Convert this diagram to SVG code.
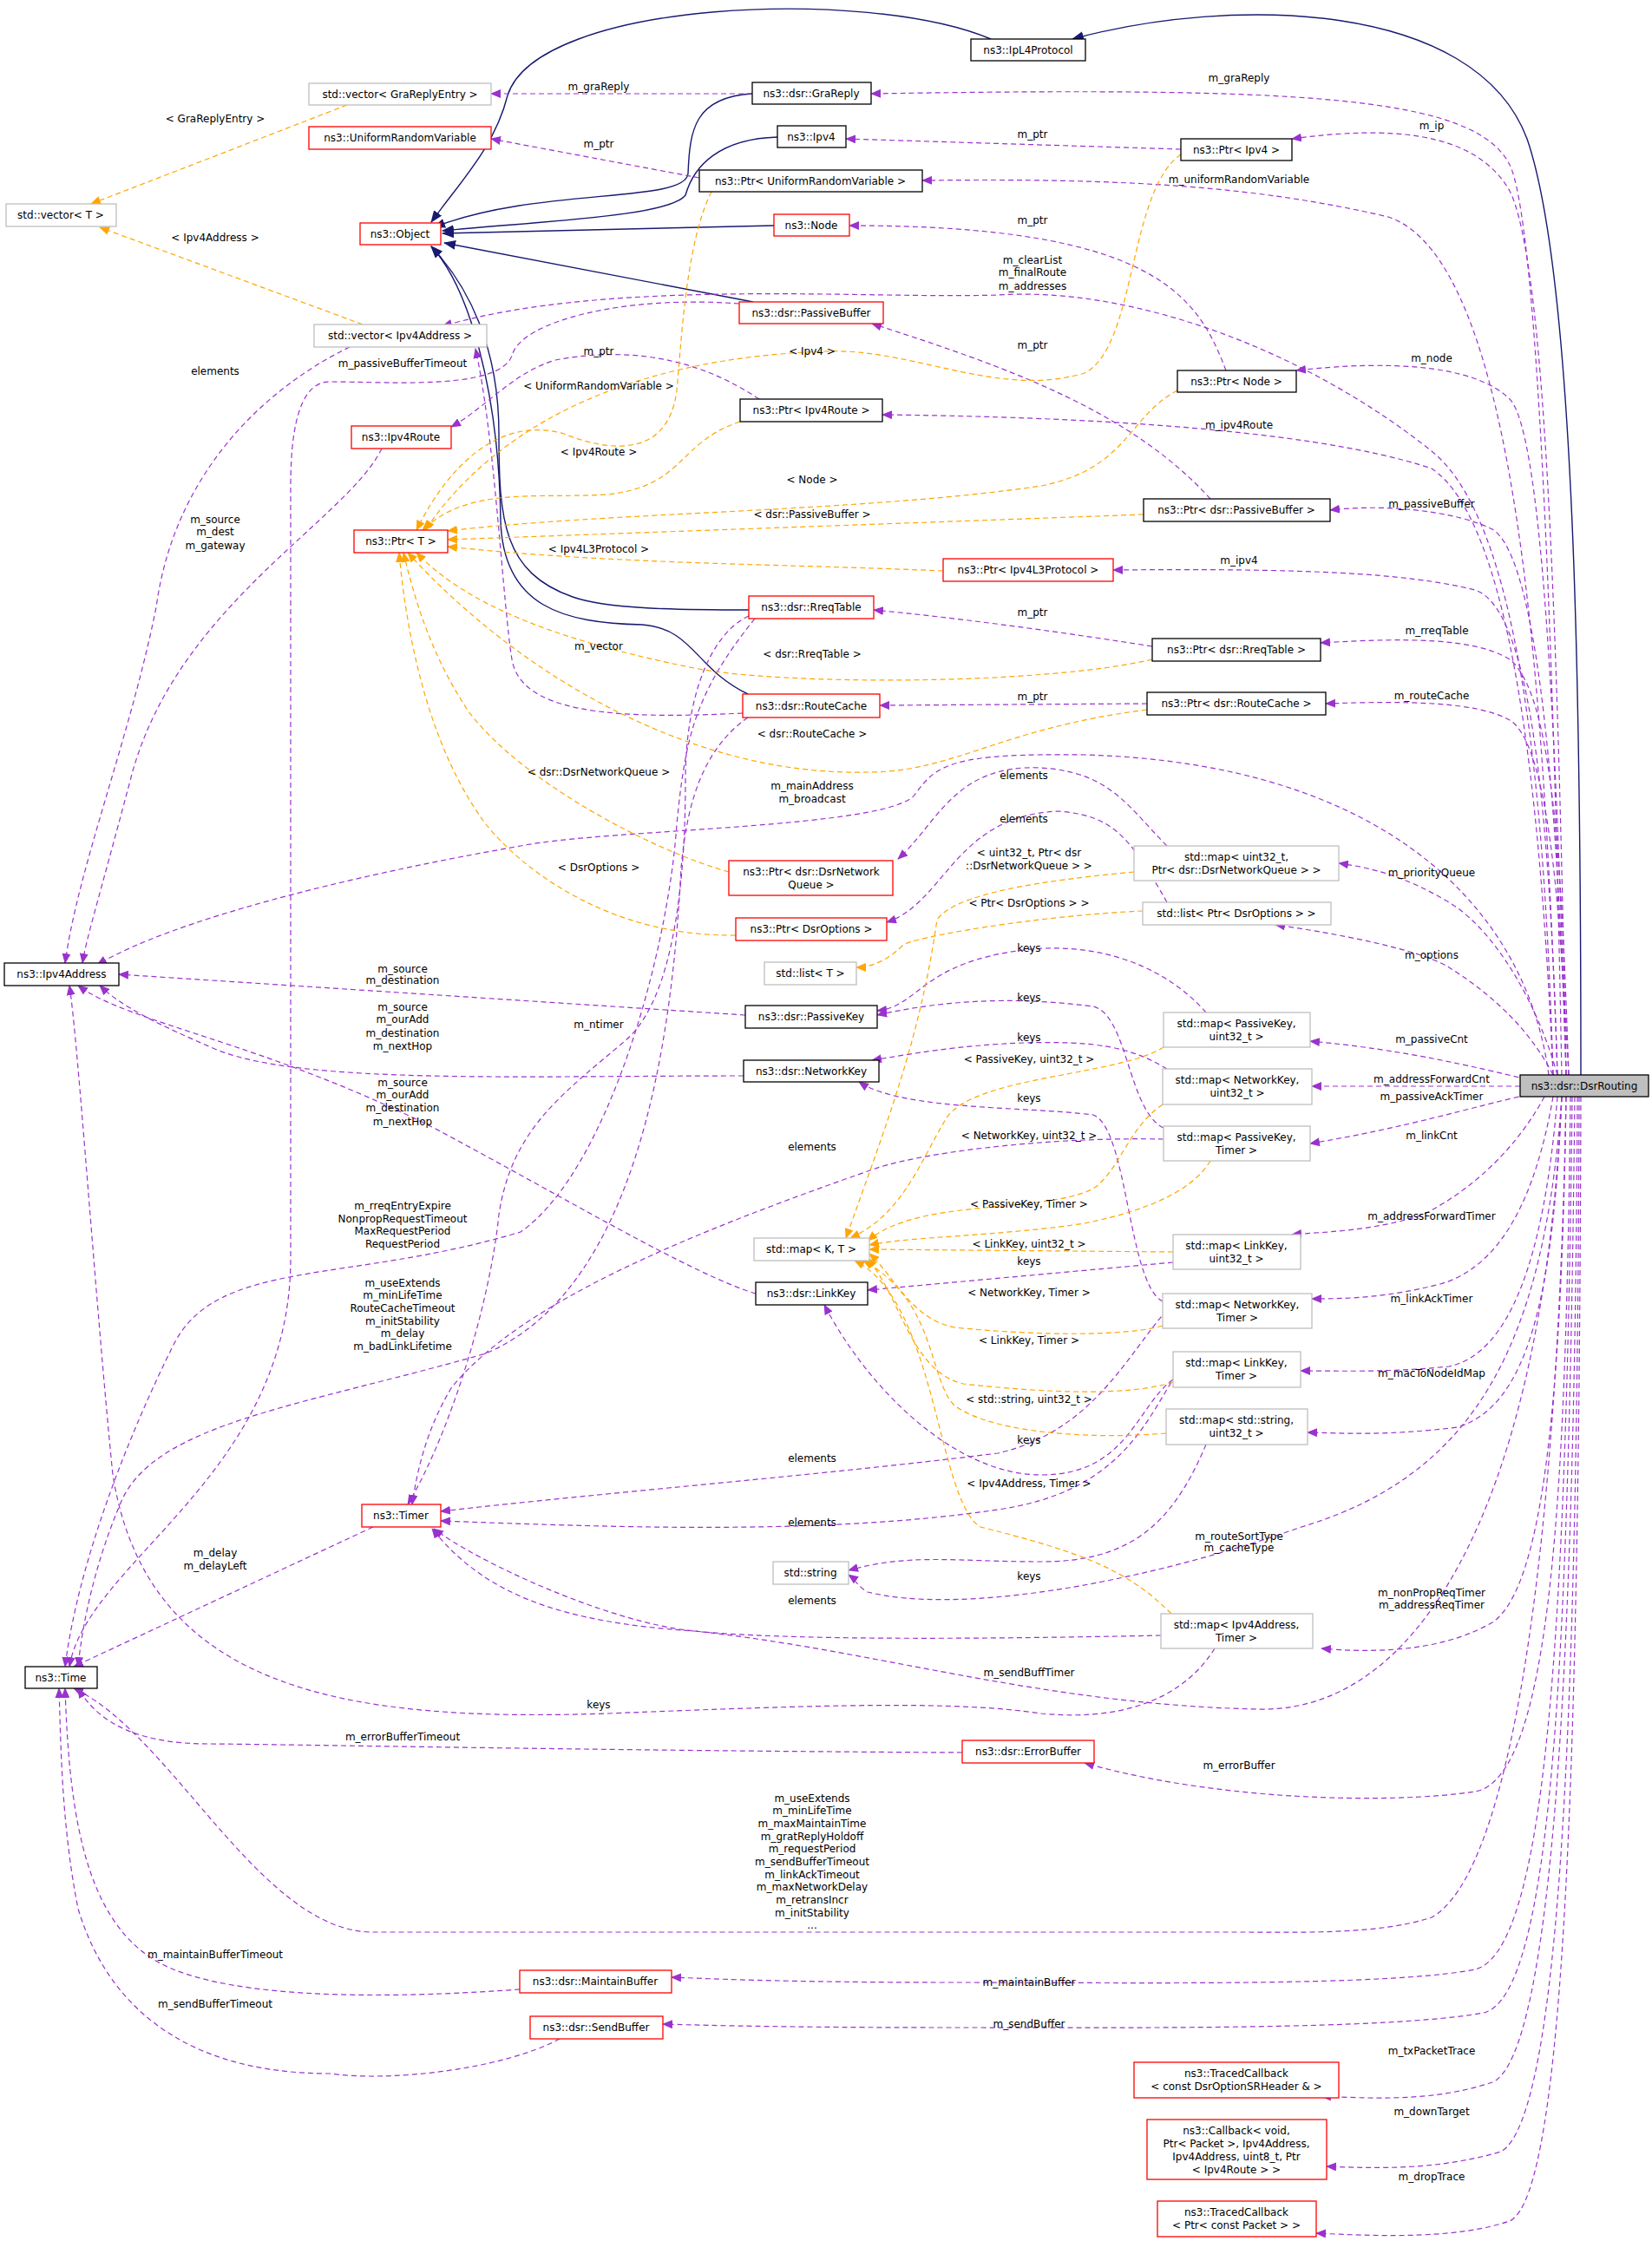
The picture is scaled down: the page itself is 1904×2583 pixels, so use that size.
<svg xmlns="http://www.w3.org/2000/svg" width="1904" height="2583" viewBox="0 0 1904 2583">
<style>
text{font-family:"DejaVu Sans","Liberation Sans",sans-serif;font-size:12px;fill:#000;text-anchor:middle}
.k{fill:#fff;stroke:#000;stroke-width:1.3}
.r{fill:#fff;stroke:#ff0000;stroke-width:1.3}
.g{fill:#fff;stroke:#bfbfbf;stroke-width:1.3}
.s{fill:#bfbfbf;stroke:#000;stroke-width:1.3}
.e{fill:none;stroke:#9a32cd;stroke-width:1.2;stroke-dasharray:6,4;marker-end:url(#mp)}
.o{fill:none;stroke:#ffa500;stroke-width:1.2;stroke-dasharray:6,4;marker-end:url(#mo)}
.i{fill:none;stroke:#191970;stroke-width:1.4;marker-end:url(#mi)}
</style>
<defs>
<marker id="mp" markerWidth="12" markerHeight="10" refX="11" refY="5" orient="auto" markerUnits="userSpaceOnUse"><path d="M0,0 L12,5 L0,10 z" fill="#9a32cd"/></marker>
<marker id="mo" markerWidth="12" markerHeight="10" refX="11" refY="5" orient="auto" markerUnits="userSpaceOnUse"><path d="M0,0 L12,5 L0,10 z" fill="#ffa500"/></marker>
<marker id="mi" markerWidth="14" markerHeight="11" refX="13" refY="5.5" orient="auto" markerUnits="userSpaceOnUse"><path d="M0,0 L14,5.5 L0,11 z" fill="#191970"/></marker>
</defs>
<g id="edges">
<path class="i" d="M1142,45 C1000,-15 620,0 585,110 C570,170 530,210 497,256"/>
<path class="i" d="M1822,1239 C1822,800 1815,320 1760,160 C1700,0 1420,-5 1236,45"/>
<path class="i" d="M867,108 C800,112 795,150 793,200 C790,235 620,215 500,262"/>
<path class="i" d="M896,158 C830,160 800,190 790,225 C770,250 620,255 510,266"/>
<path class="i" d="M892,260 L510,269"/>
<path class="i" d="M868,348 L512,280"/>
<path class="i" d="M863,703 C780,703 700,702 660,688 C580,660 575,600 575,500 C575,400 540,330 497,284"/>
<path class="i" d="M862,800 C800,770 800,725 740,720 C650,718 580,700 577,600 C575,450 540,330 497,284"/>
<path class="e" d="M1800,1239 C1790,700 1770,250 1740,190 C1700,110 1500,100 1004,108"/>
<path class="e" d="M1805,1239 C1795,700 1780,300 1740,220 C1700,150 1600,145 1489,160"/>
<path class="e" d="M1795,1239 C1780,800 1750,300 1600,250 C1450,215 1300,205 1063,208"/>
<path class="e" d="M1805,1239 C1795,900 1780,500 1740,460 C1700,420 1600,415 1494,427"/>
<path class="e" d="M1790,1239 C1775,900 1740,600 1650,540 C1500,490 1200,480 1017,478"/>
<path class="e" d="M1805,1239 C1795,900 1770,640 1720,610 C1680,590 1600,580 1533,588"/>
<path class="e" d="M1795,1239 C1785,900 1760,700 1700,680 C1620,660 1500,655 1283,657"/>
<path class="e" d="M1808,1239 C1800,1000 1790,800 1740,760 C1700,735 1620,735 1522,741"/>
<path class="e" d="M1808,1239 C1800,1100 1790,860 1740,830 C1700,808 1620,808 1528,811"/>
<path class="e" d="M1790,1239 C1780,900 1750,600 1650,520 C1500,400 1300,330 1150,340 C1000,345 700,320 510,376"/>
<path class="e" d="M1785,1239 C1760,1050 1600,880 1250,870 C1100,868 1080,880 1055,915 C1030,955 700,955 600,975 C400,1010 200,1060 112,1112"/>
<path class="e" d="M1795,1239 C1770,1150 1720,1070 1670,1040 C1620,1010 1580,1000 1543,995"/>
<path class="e" d="M1790,1239 C1760,1180 1710,1140 1670,1115 C1630,1090 1500,1070 1470,1066"/>
<path class="e" d="M1760,1244 C1700,1230 1620,1210 1510,1200"/>
<path class="e" d="M1752,1252 L1512,1252"/>
<path class="e" d="M1760,1262 C1700,1275 1620,1300 1510,1318"/>
<path class="e" d="M1780,1264 C1750,1320 1700,1370 1640,1400 C1580,1420 1520,1420 1489,1423"/>
<path class="e" d="M1790,1264 C1770,1380 1730,1460 1660,1480 C1600,1495 1560,1497 1512,1497"/>
<path class="e" d="M1795,1264 C1780,1450 1740,1560 1670,1575 C1600,1582 1550,1580 1499,1580"/>
<path class="e" d="M1800,1264 C1790,1500 1760,1620 1680,1645 C1600,1655 1550,1652 1507,1651"/>
<path class="e" d="M1800,1264 C1780,1550 1700,1700 1500,1760 C1300,1830 1100,1860 1000,1835 C990,1830 985,1820 978,1815"/>
<path class="e" d="M1805,1264 C1800,1600 1780,1830 1720,1870 C1660,1905 1580,1905 1523,1900"/>
<path class="e" d="M1800,1264 C1780,1700 1650,1975 1450,1970 C1200,1965 1000,1900 800,1880 C650,1870 560,1840 498,1762"/>
<path class="e" d="M1810,1264 C1805,1700 1790,2050 1700,2065 C1600,2080 1400,2075 1250,2032"/>
<path class="e" d="M1805,1264 C1795,1800 1740,2160 1650,2210 C1590,2230 1500,2227 1430,2227 L430,2227 C300,2227 200,2000 85,1946"/>
<path class="e" d="M1812,1264 C1805,1900 1780,2250 1700,2270 C1600,2290 1300,2285 1100,2285 C900,2285 800,2280 774,2279"/>
<path class="e" d="M1815,1264 C1808,1900 1790,2300 1710,2320 C1600,2340 1300,2337 1100,2337 C900,2337 800,2334 764,2333"/>
<path class="e" d="M1818,1264 C1815,1900 1790,2370 1720,2400 C1660,2420 1600,2420 1523,2416"/>
<path class="e" d="M1820,1264 C1818,1950 1800,2440 1730,2480 C1660,2500 1600,2500 1529,2497"/>
<path class="e" d="M1822,1264 C1820,2000 1805,2530 1740,2560 C1680,2580 1600,2578 1517,2574"/>
<path class="e" d="M867,108 L566,108"/>
<path class="e" d="M806,205 L566,160"/>
<path class="e" d="M1361,172 L975,160"/>
<path class="e" d="M1413,427 C1380,340 1330,260 979,260"/>
<path class="e" d="M1395,575 C1300,470 1150,420 1005,373"/>
<path class="e" d="M1328,745 C1200,725 1100,712 1007,703"/>
<path class="e" d="M1322,811 L1014,813"/>
<path class="e" d="M875,460 C800,410 720,400 640,415 C590,430 560,470 520,492"/>
<path class="e" d="M852,350 C720,340 600,370 590,410 C575,450 450,440 380,440 C350,440 335,480 335,560 L335,1450 C335,1700 100,1800 80,1921"/>
<path class="e" d="M856,822 C700,830 600,820 590,760 C580,700 570,500 548,402"/>
<path class="e" d="M403,400 C300,450 200,550 180,700 C150,850 90,1000 75,1110"/>
<path class="e" d="M440,517 C400,600 200,700 150,900 C110,1050 100,1080 95,1110"/>
<path class="e" d="M859,1170 L137,1123"/>
<path class="e" d="M857,1240 C600,1240 350,1250 250,1210 C180,1180 140,1160 115,1136"/>
<path class="e" d="M871,1491 C800,1470 650,1380 500,1300 C300,1200 150,1180 90,1136"/>
<path class="e" d="M1390,1167 C1340,1110 1260,1085 1180,1095 C1060,1110 1060,1160 1011,1165"/>
<path class="e" d="M1341,1300 C1300,1280 1300,1170 1260,1160 C1180,1150 1100,1150 1011,1170"/>
<path class="e" d="M1345,1232 C1300,1205 1260,1200 1180,1202 C1100,1205 1050,1215 1005,1222"/>
<path class="e" d="M1340,1500 C1300,1480 1300,1300 1260,1285 C1180,1275 1040,1280 990,1247"/>
<path class="e" d="M1352,1455 L1000,1487"/>
<path class="e" d="M1352,1590 C1310,1620 1300,1700 1200,1700 C1100,1700 1000,1600 950,1504"/>
<path class="e" d="M1341,1313 C1200,1310 1050,1330 1000,1350 C800,1420 600,1500 520,1600 C490,1650 480,1700 475,1734"/>
<path class="e" d="M1345,1510 C1300,1560 1260,1650 1150,1675 C950,1700 700,1720 508,1742"/>
<path class="e" d="M1355,1585 C1320,1640 1290,1720 1150,1740 C950,1770 700,1760 508,1753"/>
<path class="e" d="M1338,1885 C1100,1890 900,1890 800,1880 C700,1870 550,1800 500,1762"/>
<path class="e" d="M863,710 C820,730 790,800 790,900 C790,1000 780,1150 720,1200 C650,1260 590,1300 575,1400 C565,1500 520,1650 470,1734"/>
<path class="e" d="M870,713 C800,800 790,850 780,950 C770,1100 700,1350 600,1420 C400,1480 250,1450 200,1550 C150,1650 90,1800 75,1921"/>
<path class="e" d="M862,827 C800,870 790,950 785,1000 C770,1300 700,1500 560,1560 C350,1620 180,1640 140,1730 C110,1800 95,1870 90,1921"/>
<path class="e" d="M430,1760 L85,1921"/>
<path class="e" d="M1400,1900 C1350,1980 1250,1980 1200,1975 C1100,1960 950,1965 700,1975 C400,1985 170,1950 130,1700 C110,1500 90,1200 80,1136"/>
<path class="e" d="M1109,2020 C700,2018 300,2010 240,2010 C150,2010 110,1980 90,1946"/>
<path class="e" d="M599,2293 C500,2300 300,2310 200,2270 C100,2230 80,2100 75,1946"/>
<path class="e" d="M645,2350 C580,2385 450,2400 380,2390 C200,2390 120,2300 90,2200 C70,2100 70,2000 68,1946"/>
<path class="e" d="M1345,975 C1300,930 1280,890 1200,885 C1100,880 1080,950 1035,990"/>
<path class="e" d="M1345,1040 C1300,960 1280,940 1220,935 C1100,940 1090,1040 1022,1063"/>
<path class="e" d="M1390,1665 C1350,1760 1300,1800 1200,1800 C1100,1800 1050,1790 978,1810"/>
<path class="o" d="M400,121 L105,235"/>
<path class="o" d="M418,374 L115,262"/>
<path class="o" d="M1361,178 C1300,220 1310,400 1250,430 C1150,460 1050,400 950,405 C800,410 600,450 490,611"/>
<path class="o" d="M820,221 C790,280 785,400 780,450 C770,530 700,520 650,500 C580,480 520,530 480,611"/>
<path class="o" d="M853,486 C780,510 790,560 700,570 C620,575 540,560 487,611"/>
<path class="o" d="M1357,450 C1300,480 1300,540 1200,560 C1000,590 700,590 516,612"/>
<path class="o" d="M1318,593 L516,622"/>
<path class="o" d="M1087,658 C900,650 700,650 516,630"/>
<path class="o" d="M1328,760 C1200,790 900,790 800,770 C650,740 540,700 480,637"/>
<path class="o" d="M1322,818 C1150,840 1100,890 1000,890 C800,895 600,780 470,637"/>
<path class="o" d="M840,1005 C750,980 600,900 540,820 C500,760 480,700 465,637"/>
<path class="o" d="M848,1078 C700,1080 600,1000 560,950 C500,870 470,750 460,637"/>
<path class="o" d="M1317,1050 C1200,1055 1050,1080 1040,1090 C1020,1110 1000,1115 987,1115"/>
<path class="o" d="M1307,1005 C1200,1015 1100,1030 1080,1060 C1060,1200 1020,1300 975,1427"/>
<path class="o" d="M1341,1207 C1290,1240 1120,1240 1090,1290 C1060,1340 1040,1400 980,1427"/>
<path class="o" d="M1340,1273 C1300,1300 1290,1350 1260,1370 C1200,1400 1060,1380 1000,1430"/>
<path class="o" d="M1395,1338 C1370,1380 1300,1400 1250,1410 C1150,1425 1050,1425 1002,1435"/>
<path class="o" d="M1352,1443 L1002,1440"/>
<path class="o" d="M1340,1528 C1300,1540 1200,1540 1100,1530 C1050,1520 1030,1470 1002,1445"/>
<path class="o" d="M1352,1593 C1300,1610 1200,1605 1110,1595 C1050,1580 1040,1500 1000,1450"/>
<path class="o" d="M1344,1652 C1250,1660 1140,1650 1100,1620 C1070,1590 1080,1500 995,1453"/>
<path class="o" d="M1350,1860 C1300,1810 1250,1790 1130,1760 C1080,1730 1080,1500 985,1453"/>
</g>
<g id="IpL4Protocol"><rect class="k" x="1119" y="45" width="132" height="25"/><text x="1185" y="62">ns3::IpL4Protocol</text></g>
<g id="vecGra"><rect class="g" x="356" y="96" width="210" height="25"/><text x="461" y="113">std::vector&lt; GraReplyEntry &gt;</text></g>
<g id="GraReply"><rect class="k" x="867" y="95" width="137" height="25"/><text x="935" y="112">ns3::dsr::GraReply</text></g>
<g id="URV"><rect class="r" x="356" y="146" width="210" height="26"/><text x="461" y="163">ns3::UniformRandomVariable</text></g>
<g id="Ipv4"><rect class="k" x="896" y="145" width="79" height="25"/><text x="935" y="162">ns3::Ipv4</text></g>
<g id="PtrIpv4"><rect class="k" x="1361" y="160" width="128" height="25"/><text x="1425" y="177">ns3::Ptr&lt; Ipv4 &gt;</text></g>
<g id="PtrURV"><rect class="k" x="806" y="196" width="257" height="25"/><text x="934" y="213">ns3::Ptr&lt; UniformRandomVariable &gt;</text></g>
<g id="vecT"><rect class="g" x="7" y="235" width="127" height="26"/><text x="70" y="252">std::vector&lt; T &gt;</text></g>
<g id="Object"><rect class="r" x="415" y="257" width="93" height="25"/><text x="461" y="274">ns3::Object</text></g>
<g id="Node"><rect class="r" x="892" y="247" width="87" height="25"/><text x="935" y="264">ns3::Node</text></g>
<g id="PassiveBuffer"><rect class="r" x="852" y="348" width="166" height="25"/><text x="935" y="365">ns3::dsr::PassiveBuffer</text></g>
<g id="vecIpv4Address"><rect class="g" x="362" y="374" width="199" height="26"/><text x="461" y="391">std::vector&lt; Ipv4Address &gt;</text></g>
<g id="PtrNode"><rect class="k" x="1357" y="427" width="137" height="25"/><text x="1425" y="444">ns3::Ptr&lt; Node &gt;</text></g>
<g id="PtrIpv4Route"><rect class="k" x="853" y="460" width="164" height="26"/><text x="935" y="477">ns3::Ptr&lt; Ipv4Route &gt;</text></g>
<g id="Ipv4Route"><rect class="r" x="405" y="491" width="115" height="26"/><text x="462" y="508">ns3::Ipv4Route</text></g>
<g id="PtrPassiveBuffer"><rect class="k" x="1318" y="575" width="215" height="26"/><text x="1425" y="592">ns3::Ptr&lt; dsr::PassiveBuffer &gt;</text></g>
<g id="PtrT"><rect class="r" x="408" y="611" width="108" height="26"/><text x="462" y="628">ns3::Ptr&lt; T &gt;</text></g>
<g id="PtrIpv4L3"><rect class="r" x="1087" y="644" width="196" height="26"/><text x="1185" y="661">ns3::Ptr&lt; Ipv4L3Protocol &gt;</text></g>
<g id="RreqTable"><rect class="r" x="863" y="687" width="144" height="26"/><text x="935" y="704">ns3::dsr::RreqTable</text></g>
<g id="PtrRreqTable"><rect class="k" x="1328" y="736" width="194" height="26"/><text x="1425" y="753">ns3::Ptr&lt; dsr::RreqTable &gt;</text></g>
<g id="RouteCache"><rect class="r" x="856" y="800" width="158" height="27"/><text x="935" y="818">ns3::dsr::RouteCache</text></g>
<g id="PtrRouteCache"><rect class="k" x="1322" y="798" width="206" height="26"/><text x="1425" y="815">ns3::Ptr&lt; dsr::RouteCache &gt;</text></g>
<g id="PtrDsrNetworkQueue"><rect class="r" x="840" y="992" width="189" height="40"/><text x="935" y="1009">ns3::Ptr&lt; dsr::DsrNetwork</text><text x="935" y="1024">Queue &gt;</text></g>
<g id="mapPrio"><rect class="g" x="1307" y="975" width="236" height="40"/><text x="1425" y="992">std::map&lt; uint32_t,</text><text x="1425" y="1007"> Ptr&lt; dsr::DsrNetworkQueue &gt; &gt;</text></g>
<g id="PtrDsrOptions"><rect class="r" x="848" y="1058" width="174" height="26"/><text x="935" y="1075">ns3::Ptr&lt; DsrOptions &gt;</text></g>
<g id="listPtrDsrOptions"><rect class="g" x="1317" y="1040" width="217" height="26"/><text x="1425" y="1057">std::list&lt; Ptr&lt; DsrOptions &gt; &gt;</text></g>
<g id="Ipv4Address"><rect class="k" x="5" y="1110" width="132" height="26"/><text x="71" y="1127">ns3::Ipv4Address</text></g>
<g id="listT"><rect class="g" x="881" y="1109" width="106" height="26"/><text x="934" y="1126">std::list&lt; T &gt;</text></g>
<g id="PassiveKey"><rect class="k" x="859" y="1159" width="152" height="26"/><text x="935" y="1176">ns3::dsr::PassiveKey</text></g>
<g id="mapPKu"><rect class="g" x="1341" y="1167" width="169" height="40"/><text x="1425" y="1184">std::map&lt; PassiveKey,</text><text x="1425" y="1199"> uint32_t &gt;</text></g>
<g id="NetworkKey"><rect class="k" x="857" y="1222" width="156" height="25"/><text x="935" y="1239">ns3::dsr::NetworkKey</text></g>
<g id="mapNKu"><rect class="g" x="1340" y="1232" width="172" height="41"/><text x="1426" y="1249">std::map&lt; NetworkKey,</text><text x="1426" y="1264"> uint32_t &gt;</text></g>
<g id="DsrRouting"><rect class="s" x="1752" y="1239" width="148" height="25"/><text x="1826" y="1256">ns3::dsr::DsrRouting</text></g>
<g id="mapPKT"><rect class="g" x="1341" y="1298" width="169" height="40"/><text x="1425" y="1315">std::map&lt; PassiveKey,</text><text x="1425" y="1330"> Timer &gt;</text></g>
<g id="mapKT"><rect class="g" x="869" y="1427" width="133" height="26"/><text x="935" y="1444">std::map&lt; K, T &gt;</text></g>
<g id="mapLKu"><rect class="g" x="1352" y="1423" width="147" height="40"/><text x="1425" y="1440">std::map&lt; LinkKey,</text><text x="1425" y="1455"> uint32_t &gt;</text></g>
<g id="LinkKey"><rect class="k" x="871" y="1478" width="129" height="26"/><text x="935" y="1495">ns3::dsr::LinkKey</text></g>
<g id="mapNKT"><rect class="g" x="1340" y="1491" width="172" height="40"/><text x="1426" y="1508">std::map&lt; NetworkKey,</text><text x="1426" y="1523"> Timer &gt;</text></g>
<g id="mapLKT"><rect class="g" x="1352" y="1558" width="147" height="41"/><text x="1425" y="1575">std::map&lt; LinkKey,</text><text x="1425" y="1590"> Timer &gt;</text></g>
<g id="mapSu"><rect class="g" x="1344" y="1624" width="163" height="41"/><text x="1425" y="1641">std::map&lt; std::string,</text><text x="1425" y="1656"> uint32_t &gt;</text></g>
<g id="Timer"><rect class="r" x="417" y="1734" width="91" height="26"/><text x="462" y="1751">ns3::Timer</text></g>
<g id="string"><rect class="g" x="891" y="1800" width="87" height="26"/><text x="934" y="1817">std::string</text></g>
<g id="mapIAT"><rect class="g" x="1338" y="1860" width="175" height="40"/><text x="1425" y="1877">std::map&lt; Ipv4Address,</text><text x="1425" y="1892"> Timer &gt;</text></g>
<g id="Time"><rect class="k" x="29" y="1921" width="83" height="25"/><text x="70" y="1938">ns3::Time</text></g>
<g id="ErrorBuffer"><rect class="r" x="1109" y="2006" width="152" height="26"/><text x="1185" y="2023">ns3::dsr::ErrorBuffer</text></g>
<g id="MaintainBuffer"><rect class="r" x="599" y="2271" width="175" height="26"/><text x="686" y="2288">ns3::dsr::MaintainBuffer</text></g>
<g id="SendBuffer"><rect class="r" x="611" y="2324" width="153" height="26"/><text x="687" y="2341">ns3::dsr::SendBuffer</text></g>
<g id="TracedCb1"><rect class="r" x="1307" y="2377" width="236" height="41"/><text x="1425" y="2394">ns3::TracedCallback</text><text x="1425" y="2409">&lt; const DsrOptionSRHeader &amp; &gt;</text></g>
<g id="Callback"><rect class="r" x="1322" y="2443" width="207" height="69"/><text x="1425" y="2460">ns3::Callback&lt; void,</text><text x="1425" y="2475"> Ptr&lt; Packet &gt;, Ipv4Address,</text><text x="1425" y="2490"> Ipv4Address, uint8_t, Ptr</text><text x="1425" y="2505">&lt; Ipv4Route &gt; &gt;</text></g>
<g id="TracedCb2"><rect class="r" x="1334" y="2537" width="183" height="41"/><text x="1425" y="2554">ns3::TracedCallback</text><text x="1425" y="2569">&lt; Ptr&lt; const Packet &gt; &gt;</text></g>
<g id="labels">
<text x="1428" y="94">m_graReply</text>
<text x="1650" y="149">m_ip</text>
<text x="1428" y="211">m_uniformRandomVariable</text>
<text x="1650" y="417">m_node</text>
<text x="1428" y="494">m_ipv4Route</text>
<text x="1650" y="585">m_passiveBuffer</text>
<text x="1428" y="650">m_ipv4</text>
<text x="1656" y="731">m_rreqTable</text>
<text x="1650" y="806">m_routeCache</text>
<text x="1190" y="304">m_clearList</text><text x="1190" y="318">m_finalRoute</text><text x="1190" y="334">m_addresses</text>
<text x="936" y="910">m_mainAddress</text><text x="936" y="925">m_broadcast</text>
<text x="1650" y="1010">m_priorityQueue</text>
<text x="1650" y="1105">m_options</text>
<text x="1650" y="1202">m_passiveCnt</text>
<text x="1650" y="1248">m_addressForwardCnt</text>
<text x="1650" y="1268">m_passiveAckTimer</text>
<text x="1650" y="1313">m_linkCnt</text>
<text x="1650" y="1406">m_addressForwardTimer</text>
<text x="1650" y="1501">m_linkAckTimer</text>
<text x="1650" y="1587">m_macToNodeIdMap</text>
<text x="1428" y="1775">m_routeSortType</text><text x="1428" y="1788">m_cacheType</text>
<text x="1650" y="1840">m_nonPropReqTimer</text><text x="1650" y="1854">m_addressReqTimer</text>
<text x="1186" y="1932">m_sendBuffTimer</text>
<text x="1428" y="2039">m_errorBuffer</text>
<text x="936" y="2077">m_useExtends</text><text x="936" y="2091">m_minLifeTime</text><text x="936" y="2106">m_maxMaintainTime</text><text x="936" y="2121">m_gratReplyHoldoff</text><text x="936" y="2135">m_requestPeriod</text><text x="936" y="2150">m_sendBufferTimeout</text><text x="936" y="2165">m_linkAckTimeout</text><text x="936" y="2179">m_maxNetworkDelay</text><text x="936" y="2194">m_retransIncr</text><text x="936" y="2209">m_initStability</text><text x="936" y="2223">...</text>
<text x="1186" y="2289">m_maintainBuffer</text>
<text x="1186" y="2337">m_sendBuffer</text>
<text x="1650" y="2368">m_txPacketTrace</text>
<text x="1650" y="2438">m_downTarget</text>
<text x="1650" y="2513">m_dropTrace</text>
<text x="690" y="104">m_graReply</text>
<text x="690" y="170">m_ptr</text>
<text x="1190" y="159">m_ptr</text>
<text x="1190" y="258">m_ptr</text>
<text x="1190" y="402">m_ptr</text>
<text x="690" y="409">m_ptr</text>
<text x="1190" y="710">m_ptr</text>
<text x="1190" y="807">m_ptr</text>
<text x="464" y="423">m_passiveBufferTimeout</text>
<text x="690" y="749">m_vector</text>
<text x="248" y="432">elements</text>
<text x="248" y="603">m_source</text><text x="248" y="617">m_dest</text><text x="248" y="633">m_gateway</text>
<text x="464" y="1121">m_source</text><text x="464" y="1134">m_destination</text>
<text x="464" y="1165">m_source</text><text x="464" y="1179">m_ourAdd</text><text x="464" y="1195">m_destination</text><text x="464" y="1210">m_nextHop</text>
<text x="464" y="1252">m_source</text><text x="464" y="1266">m_ourAdd</text><text x="464" y="1281">m_destination</text><text x="464" y="1297">m_nextHop</text>
<text x="690" y="1185">m_ntimer</text>
<text x="464" y="1394">m_rreqEntryExpire</text><text x="464" y="1409">NonpropRequestTimeout</text><text x="464" y="1423">MaxRequestPeriod</text><text x="464" y="1438">RequestPeriod</text>
<text x="464" y="1483">m_useExtends</text><text x="464" y="1497">m_minLifeTime</text><text x="464" y="1512">RouteCacheTimeout</text><text x="464" y="1527">m_initStability</text><text x="464" y="1541">m_delay</text><text x="464" y="1556">m_badLinkLifetime</text>
<text x="248" y="1794">m_delay</text><text x="248" y="1809">m_delayLeft</text>
<text x="1186" y="1097">keys</text>
<text x="1186" y="1154">keys</text>
<text x="1186" y="1200">keys</text>
<text x="1186" y="1270">keys</text>
<text x="1186" y="1458">keys</text>
<text x="1186" y="1664">keys</text>
<text x="1186" y="1821">keys</text>
<text x="690" y="1969">keys</text>
<text x="936" y="1326">elements</text>
<text x="936" y="1685">elements</text>
<text x="936" y="1759">elements</text>
<text x="936" y="1849">elements</text>
<text x="1180" y="898">elements</text>
<text x="1180" y="948">elements</text>
<text x="464" y="2006">m_errorBufferTimeout</text>
<text x="248" y="2257">m_maintainBufferTimeout</text>
<text x="248" y="2314">m_sendBufferTimeout</text>
<text x="248" y="141">&lt; GraReplyEntry &gt;</text>
<text x="248" y="278">&lt; Ipv4Address &gt;</text>
<text x="936" y="409">&lt; Ipv4 &gt;</text>
<text x="690" y="449">&lt; UniformRandomVariable &gt;</text>
<text x="690" y="525">&lt; Ipv4Route &gt;</text>
<text x="936" y="557">&lt; Node &gt;</text>
<text x="936" y="597">&lt; dsr::PassiveBuffer &gt;</text>
<text x="690" y="637">&lt; Ipv4L3Protocol &gt;</text>
<text x="936" y="758">&lt; dsr::RreqTable &gt;</text>
<text x="936" y="850">&lt; dsr::RouteCache &gt;</text>
<text x="690" y="894">&lt; dsr::DsrNetworkQueue &gt;</text>
<text x="690" y="1004">&lt; DsrOptions &gt;</text>
<text x="1186" y="987">&lt; uint32_t, Ptr&lt; dsr</text><text x="1186" y="1002">::DsrNetworkQueue &gt; &gt;</text>
<text x="1186" y="1045">&lt; Ptr&lt; DsrOptions &gt; &gt;</text>
<text x="1186" y="1225">&lt; PassiveKey, uint32_t &gt;</text>
<text x="1186" y="1313">&lt; NetworkKey, uint32_t &gt;</text>
<text x="1186" y="1392">&lt; PassiveKey, Timer &gt;</text>
<text x="1186" y="1438">&lt; LinkKey, uint32_t &gt;</text>
<text x="1186" y="1494">&lt; NetworkKey, Timer &gt;</text>
<text x="1186" y="1549">&lt; LinkKey, Timer &gt;</text>
<text x="1186" y="1617">&lt; std::string, uint32_t &gt;</text>
<text x="1186" y="1714">&lt; Ipv4Address, Timer &gt;</text>
</g>
</svg>
